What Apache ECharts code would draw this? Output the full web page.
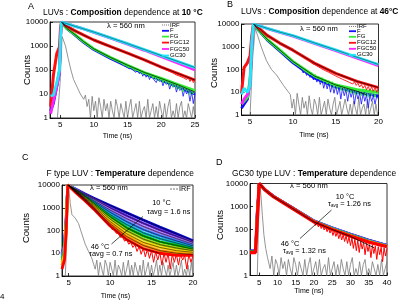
<!DOCTYPE html>
<html><head><meta charset="utf-8">
<script src="https://cdn.jsdelivr.net/npm/echarts@6/dist/echarts.min.js"></script>
<style>html,body{margin:0;padding:0;background:#fff}#c{width:400px;height:304px}</style>
</head><body><div id="c"></div>
<script>
// ---------- Panel A: composition at 10 °C ----------
const aTime  = [3.6, 4.0, 4.5, 4.9, 5.05, 5.2, 6, 7, 8.5, 10, 12.5, 15, 17.5, 20, 22.5, 25];
const aF     = [2, 4, 20, 80, 2000, 10000, 5248, 3162, 1413, 708, 302, 141, 71, 38, 20, 10];
const aFG    = [3, 6, 25, 100, 2500, 10000, 5370, 3311, 1514, 759, 331, 158, 79, 45, 25, 14];
const aFGC12 = [3, 60, 480, 900, 5000, 10000, 6607, 4571, 2818, 1778, 933, 501, 263, 132, 71, 38];
const aFGC50 = [1.5, 5, 20, 80, 2000, 10000, 8511, 6918, 5129, 3715, 2138, 1202, 661, 355, 191, 100];
const aGC30  = [8, 9, 30, 100, 2000, 10000, 8511, 6918, 5129, 3802, 2188, 1259, 708, 398, 224, 126];
const aFitFG = [10000, 5370, 3311, 1514, 759, 331, 158, 79, 44, 24, 12];
// noisy tails (t = start + i*step)
const aFNoiseStart = 14, aFNoiseStep = 0.25;
const aFNoise = [200,160,190,140,150,110,135,100,115,80, 100,70,90,55,75,50,66,40,58,45, 52,30,45,33,40,22,36,25,31,16, 27,19,25,12,21,14,18,8,16,10, 14,5,12,4,10];
const aFGNoiseStart = 14, aFGNoiseStep = 0.25;
const aFGNoise = [220,170,200,150,165,120,150,110,125,90, 115,80,100,65,85,60,75,50,66,45, 55,38,48,33,44,30,40,27,35,22, 31,20,27,16,25,15,21,12,19,13, 17,9,15,10,14];
const aFGC12NoiseStart = 15, aFGC12NoiseStep = 0.25;
const aFGC12Noise = [520,440,480,390,430,350,390,320,350,280, 300,240,270,215,240,190,210,165,185,140, 150,120,135,100,115,88,100,75,85,62, 75,55,66,48,58,40,50,33,44,30, 38];
const aIrfTime = [4.6, 5.0, 5.3, 5.5, 5.8, 6.2, 6.6, 7.0, 7.5, 8.0, 8.5];
const aIrf     = [1, 30, 2500, 2800, 1000, 300, 100, 40, 20, 10, 6];
const aIrfTailStart = 8.75, aIrfTailStep = 0.25;
const aIrfTail = [9,3,6,1,8,2,5,1,7,3, 1,6,2,4,1,5,2,1,6,3, 1,4,2,1,5,1,3,6,1,2, 4,1,5,1,2,3,1,6,1,2, 4,1,3,1,5,2,1,4,1,3, 6,1,2,1,4,1,3,5,1,2, 1,4,2,1,3,1];

// ---------- Panel B: composition at 46 °C ----------
const bTime  = [4.0, 4.3, 4.7, 5.0, 5.2, 5.4, 6, 7, 8.5, 10, 12.5, 15, 17.5, 20];
const bF     = [2, 3, 5, 30, 1000, 10000, 5248, 1995, 631, 200, 42, 17, 10, 7];
const bFG    = [3, 4, 6, 40, 1500, 10000, 5370, 2138, 708, 229, 52, 21, 13, 10];
const bFGC12 = [9, 120, 200, 400, 3000, 10000, 6761, 3162, 1413, 708, 191, 68, 30, 16];
const bFGC50 = [3, 5, 8, 20, 1500, 10000, 8511, 6310, 4266, 2951, 1413, 676, 316, 148];
const bGC30  = [8, 15, 10, 20, 1500, 10000, 8511, 6457, 4365, 3090, 1479, 724, 347, 166];
const bFitTime = [5.4, 6, 7, 8.5, 10, 12.5, 15, 17.5, 18.5];
const bFitFG   = [10000, 5370, 2138, 708, 229, 52, 21, 11, 8];
const bFNoiseStart = 11, bFNoiseStep = 0.2;
const bFNoise = [110,70,95,55,80,45,65,35,52,28, 44,22,36,15,30,14,26,10,22,9, 19,8,17,5,15,7,13,4,12,6, 11,3,10,5,9,3,9,4,8,2, 8,4,7,3,7,5];
const bFGNoiseStart = 11, bFGNoiseStep = 0.2;
const bFGNoise = [130,95,110,75,90,60,75,48,62,40, 52,33,45,27,38,23,33,19,29,16, 25,14,22,12,20,11,18,10,17,9, 15,8,14,8,13,7,13,7,12,6, 12,7,11,6,11,8];
const bFGC12NoiseStart = 12, bFGC12NoiseStep = 0.2;
const bFGC12Noise = [260,190,220,160,180,130,150,105,125,88, 100,75,85,62,72,52,62,44,52,37, 45,32,38,27,33,23,29,20,25,17, 22,15,20,13,18,12,17,11,16,10, 16];
const bIrfTime = [5.0, 5.3, 5.6, 5.9, 6.3, 6.9, 7.5, 8.1, 8.9, 9.5];
const bIrf     = [1, 300, 6300, 3000, 1000, 250, 100, 57, 20, 10];
const bIrfTailStart = 9.7, bIrfTailStep = 0.2;
const bIrfTail = [8,2,5,1,9,3,1,6,2,4, 1,7,2,1,5,3,1,6,1,2, 4,1,5,2,1,3,6,1,2,4, 1,1,5,2,1,3,1,4,2,1, 6,1,2,3,1,5,1,2,4,1, 3,1];

// ---------- Panel C: F type, temperature ----------
const cTime = [4.2, 4.5, 4.7, 4.9, 6, 7, 8, 10, 12, 14, 16, 18, 20];
const c10 = [10, 25, 300, 10000, 6166, 3981, 2692, 1259, 603, 288, 141, 71, 35];
const c14 = [9, 22, 280, 10000, 5888, 3715, 2399, 1000, 447, 209, 105, 56, 30];
const c18 = [8, 20, 250, 10000, 5623, 3388, 2089, 794, 331, 151, 78, 44, 25];
const c22 = [7, 18, 220, 10000, 5370, 3162, 1862, 631, 245, 110, 59, 35, 21];
const c26 = [6, 15, 200, 10000, 5129, 2951, 1660, 501, 182, 79, 44, 28, 18];
const c30 = [5, 12, 180, 10000, 5012, 2692, 1445, 398, 132, 58, 32, 22, 15];
const c34 = [4, 10, 150, 10000, 4786, 2512, 1288, 316, 98, 42, 24, 17, 13];
const c38 = [3, 8, 120, 10000, 4571, 2344, 1148, 251, 72, 30, 18, 13, 11];
const c42 = [3, 6, 100, 10000, 4365, 2138, 1000, 200, 54, 22, 13, 10, 9];
const c46 = [2, 5, 80, 10000, 4169, 1995, 891, 158, 40, 16, 10, 8, 8];
const c46NoiseStart = 8, c46NoiseStep = 0.25;
const c46Noise = [900,700,600,430,380,270,250,180,160,110, 110,75,75,50,52,34,40,25,30,18, 24,12,20,9,17,7,15,6,13,4, 12,5,11,3,10,4,10,2,9,4, 9,3,9,5,8,2,9,4,8];
const cIrfTime = [4.6, 4.85, 5.0, 5.2, 5.4, 5.8, 6.2, 6.6, 7.0, 7.4, 7.8];
const cIrf     = [1, 200, 9000, 1500, 500, 350, 200, 70, 25, 12, 6];
const cIrfTailStart = 8.0, cIrfTailStep = 0.2;
const cIrfTail = [6,2,5,1,4,2,1,5,3,1, 4,2,1,5,1,3,2,1,4,1, 2,5,1,3,1,4,2,1,3,1, 5,1,2,4,1,3,1,2,5,1, 3,1,4,2,1,3,1,2,4,1, 3,1,2,5,1,2,1,3,1,4, 1];

// ---------- Panel D: GC30 type, temperature ----------
const dTime = [2.5, 4.0, 4.5, 4.8, 5.0, 6.6, 8.9, 13.5, 20, 25, 30, 35, 40];
const d10 = [12, 12, 1000, 3000, 10000, 5370, 2884, 1047, 245, 122, 65, 35, 21];
const d14 = [12, 12, 900, 2900, 10000, 5350, 2860, 1035, 241, 120, 63, 34, 21];
const d18 = [11, 11, 800, 2800, 10000, 5330, 2840, 1025, 237, 117, 62, 33, 20];
const d22 = [11, 11, 700, 2700, 10000, 5320, 2820, 1015, 234, 114, 60, 32, 20];
const d26 = [11, 11, 600, 2600, 10000, 5310, 2800, 1005, 231, 112, 59, 32, 20];
const d30 = [11, 11, 550, 2500, 10000, 5300, 2780, 995, 228, 110, 58, 31, 19];
const d34 = [10, 10, 500, 2400, 10000, 5290, 2760, 985, 224, 107, 56, 30, 19];
const d38 = [10, 10, 450, 2300, 10000, 5280, 2740, 975, 220, 105, 55, 30, 19];
const d42 = [10, 10, 400, 2200, 10000, 5260, 2720, 965, 217, 102, 53, 29, 18];
const d46 = [10, 10, 300, 2000, 10000, 5248, 2692, 955, 214, 100, 52, 28, 18];
const d46NoiseStart = 20, d46NoiseStep = 0.4;
const d46Noise = [230,150,200,130,175,110,150,95,130,80, 115,70,100,55,90,50,78,40,68,35, 60,30,54,25,48,20,43,15,38,12, 34,10,30,14,27,8,25,11,22,6, 21,9,19,5,18,8,17,4,16,7, 15];
const dFitTime = [5.0, 6.6, 8.9, 13.5, 20, 25, 30, 36.5];
const dFit     = [10000, 5248, 2692, 955, 214, 100, 50, 16];
const dIrfTime = [4.5, 4.9, 5.2, 5.5, 5.9, 6.3, 6.8, 7.3];
const dIrf     = [1, 500, 9000, 3000, 400, 60, 15, 6];
const dIrfTailStart = 7.5, dIrfTailStep = 0.5;
const dIrfTail = [6,2,7,1,5,3,1,6,2,4, 1,5,2,1,6,3,1,4,2,1, 5,1,3,6,1,2,4,1,5,1, 2,3,1,6,1,2,4,1,3,1, 5,2,1,4,1,3,6,1,2,1, 4,1,3,5,1,2,1,4,2,1, 3,1,5,1,2,4];

// ---------- tick labels ----------
const aTicks = [5, 10, 15, 20, 25];
const bTicks = [5, 10, 15, 20];
const cTicks = [5, 10, 15, 20];
const dTicks = [5, 10, 15, 20, 25, 30, 35, 40];

// ---------- helpers ----------
const FONT = 'Liberation Sans, Arial, sans-serif';
function pairs(T, V) { return V.map((v, i) => [T[i], v]); }
function seq(start, step, V) { return V.map((v, i) => [+(start + i * step).toFixed(3), v]); }
function irf(T, V, start, step, tail) { return pairs(T, V).concat(seq(start, step, tail)); }
function line(idx, data, color, width, z) {
  return { type: 'line', xAxisIndex: idx, yAxisIndex: idx, data, showSymbol: false,
    lineStyle: { color, width }, itemStyle: { color }, z: z || 2, silent: true, animation: false };
}
const GRAY = '#7a7a7a', BLUE = '#1010ff', GREEN = '#33ee33', RED = '#ff1010', MAG = '#ff22ff', CYAN = '#22e8f8';
const rainbow = ['#0a0ad0', '#6a2be0', '#a070f0', '#2f7fff', '#00b8c0', '#00b400', '#a0c800', '#ffd400', '#ff8a00', '#ff0000'];

const grids = [
  { left: 50, top: 22, width: 145, height: 96 },
  { left: 241.5, top: 24, width: 137, height: 91 },
  { left: 62, top: 185, width: 131, height: 91 },
  { left: 250, top: 183.5, width: 137, height: 92 }
].map(g => Object.assign(g, { show: true, borderColor: '#000', borderWidth: 0.8, backgroundColor: 'transparent' }));

const xr = [[3.5, 25, aTicks], [4, 20, bTicks], [4.2, 20, cTicks], [2.5, 40, dTicks]];
const xAxis = xr.map((r, i) => ({
  type: 'value', gridIndex: i, min: r[0], max: r[1],
  axisLine: { lineStyle: { color: '#000', width: 0.8 } },
  axisTick: { inside: true, length: 3, customValues: r[2], lineStyle: { color: '#000', width: 0.8 } },
  axisLabel: { customValues: r[2], fontSize: 8, color: '#000', margin: 3, fontFamily: FONT },
  splitLine: { show: false }
}));
const yAxis = [0, 1, 2, 3].map(i => ({
  type: 'log', logBase: 10, gridIndex: i, min: 1, max: 10000,
  axisLine: { lineStyle: { color: '#000', width: 0.8 } },
  axisTick: { inside: true, length: 3, lineStyle: { color: '#000', width: 0.8 } },
  axisLabel: { fontSize: 8, color: '#000', margin: 2, fontFamily: FONT, formatter: v => String(Math.round(v)) },
  splitLine: { show: false }
}));

const FIT = '#000', FITC = '#12405a';
const series = [];
// A
series.push(line(0, irf(aIrfTime, aIrf, aIrfTailStart, aIrfTailStep, aIrfTail), GRAY, 0.8, 1));
series.push(line(0, seq(aFNoiseStart, aFNoiseStep, aFNoise), BLUE, 0.8));
series.push(line(0, pairs(aTime, aF), BLUE, 2.8));
series.push(line(0, seq(aFGNoiseStart, aFGNoiseStep, aFGNoise), GREEN, 0.9));
series.push(line(0, pairs(aTime, aFG), GREEN, 2.8));
series.push(line(0, seq(aFGC12NoiseStart, aFGC12NoiseStep, aFGC12Noise), RED, 0.9));
series.push(line(0, pairs(aTime, aFGC12), RED, 3));
series.push(line(0, pairs(aTime, aFGC50), MAG, 2.8));
series.push(line(0, pairs(aTime, aGC30), CYAN, 2.8));
series.push(line(0, pairs(aTime.slice(5), aFitFG), FIT, 0.7, 5));
series.push(line(0, pairs(aTime.slice(5), aFGC12.slice(5)), FIT, 0.7, 5));
series.push(line(0, pairs(aTime.slice(5), aGC30.slice(5)), FITC, 0.6, 5));
// B
series.push(line(1, irf(bIrfTime, bIrf, bIrfTailStart, bIrfTailStep, bIrfTail), GRAY, 0.8, 1));
series.push(line(1, seq(bFNoiseStart, bFNoiseStep, bFNoise), BLUE, 0.8));
series.push(line(1, pairs(bTime, bF), BLUE, 2.8));
series.push(line(1, seq(bFGNoiseStart, bFGNoiseStep, bFGNoise), GREEN, 0.9));
series.push(line(1, pairs(bTime, bFG), GREEN, 2.8));
series.push(line(1, seq(bFGC12NoiseStart, bFGC12NoiseStep, bFGC12Noise), RED, 0.9));
series.push(line(1, pairs(bTime, bFGC12), RED, 3));
series.push(line(1, pairs(bTime, bFGC50), MAG, 2.8));
series.push(line(1, pairs(bTime, bGC30), CYAN, 2.8));
series.push(line(1, pairs(bFitTime, bFitFG), FIT, 0.7, 5));
series.push(line(1, pairs(bTime.slice(5), bFGC12.slice(5)), FIT, 0.7, 5));
series.push(line(1, pairs(bTime.slice(5), bGC30.slice(5)), FITC, 0.6, 5));
// C
series.push(line(2, irf(cIrfTime, cIrf, cIrfTailStart, cIrfTailStep, cIrfTail), GRAY, 0.8, 1));
const cSets = [c10, c14, c18, c22, c26, c30, c34, c38, c42, c46];
cSets.forEach((s, i) => series.push(line(2, pairs(cTime, s), rainbow[i], 2.8, 2 + i * 0.01)));
series.push(line(2, seq(c46NoiseStart, c46NoiseStep, c46Noise), rainbow[9], 1, 2.2));
cSets.forEach((s, i) => {
  const end = i === 9 ? 11 : s.length;
  series.push(line(2, pairs(cTime.slice(3, end), s.slice(3, end)), FIT, 0.55, 5));
});
// D
series.push(line(3, irf(dIrfTime, dIrf, dIrfTailStart, dIrfTailStep, dIrfTail), GRAY, 0.8, 1));
const dSets = [d10, d14, d18, d22, d26, d30, d34, d38, d42, d46];
dSets.forEach((s, i) => series.push(line(3, pairs(dTime, s), rainbow[i], i === 9 ? 3.4 : 2.4, 2 + i * 0.01)));
series.push(line(3, seq(d46NoiseStart, d46NoiseStep, d46Noise), rainbow[9], 1, 2.2));
series.push(line(3, pairs(dFitTime, dFit), FIT, 0.8, 5));

// ---------- text / annotations ----------
const g = [];
function txt(x, y, text, size, opt) {
  g.push({ type: 'text', x, y, z: 50, style: Object.assign({ text, fontSize: size, fontFamily: FONT, fill: '#000',
    align: 'left', verticalAlign: 'middle' }, opt || {}) });
}
function seg(x1, y1, x2, y2, color, w, dash) {
  g.push({ type: 'line', z: 50, shape: { x1, y1, x2, y2 }, style: { stroke: color, lineWidth: w, lineDash: dash || null } });
}
const richB = { n: { fontSize: 8.4, fontFamily: FONT }, b: { fontSize: 8.4, fontFamily: FONT, fontWeight: 'bold' } };
txt(28, 7, 'A', 9);
txt(43, 13, '{n|LUVs : }{b|Composition}{n| dependence at }{b|10 °C}', 8.4, { rich: richB });
txt(227, 5, 'B', 9);
txt(241, 12, '{n|LUVs : }{b|Composition}{n| dependence at }{b|46°C}', 8.4, { rich: richB });
txt(22, 158, 'C', 9);
txt(46.5, 174, '{n|F type LUV : }{b|Temperature}{n| dependence}', 8.4, { rich: richB });
txt(216, 163, 'D', 9);
txt(232, 174, '{n|GC30 type LUV : }{b|Temperature}{n| dependence}', 8.4, { rich: richB });
txt(0, 297, '4', 8);

// axis names
[[27, 70], [214, 73], [26.5, 228], [220, 225]].forEach(p => {
  g.push({ type: 'text', x: p[0], y: p[1], rotation: Math.PI / 2, z: 50,
    style: { text: 'Counts', fontSize: 9.5, fontFamily: FONT, fill: '#000', align: 'center', verticalAlign: 'middle' } });
});
[[117.5, 136.5], [314, 135], [115.5, 296.5], [309, 291]].forEach(p => txt(p[0], p[1], 'Time (ns)', 7, { align: 'center' }));

// lambda
[[107, 26], [300, 29], [90, 188], [290, 186]].forEach(p => txt(p[0], p[1], 'λ = 560 nm', 7.6));

// legends A and B
const legNames = ['IRF', 'F', 'FG', 'FGC12', 'FGC50', 'GC30'];
const legCols = [GRAY, BLUE, GREEN, RED, MAG, CYAN];
const legA = [25, 30.8, 36.6, 42.6, 49, 55.5];
const legB = [26.5, 31.2, 36.8, 42.8, 48.8, 54.8];
[[162, legA], [349, legB]].forEach(L => {
  L[1].forEach((y, i) => {
    seg(L[0], y, L[0] + 7, y, legCols[i], i === 0 ? 1 : 1.8, i === 0 ? [1, 1] : null);
    txt(L[0] + 8, y, legNames[i], 6);
  });
});
// C legend IRF
seg(170, 189, 178, 189, '#555', 0.8, [2, 1]);
txt(179, 189, 'IRF', 7.2);

// C annotations
const richT = { t: { fontSize: 7.4, fontFamily: FONT }, s: { fontSize: 7.4, fontFamily: FONT } };
txt(161.5, 202.5, '10 °C', 7.4, { align: 'center' });
txt(147, 212, '{t|τ}{s|avg}{t| = 1.6 ns}', 7.4, { rich: richT });
seg(143, 216.5, 111.5, 244, '#000', 0.7);
txt(100, 246.5, '46 °C', 7.4, { align: 'center' });
txt(89, 254, '{t|τ}{s|avg}{t| = 0.7 ns}', 7.4, { rich: richT });
// D annotations
const richD = { t: { fontSize: 7.4, fontFamily: FONT }, s: { fontSize: 4.5, fontFamily: FONT, padding: [4, 0, 0, 0] } };
txt(345, 196.5, '10 °C', 7.4, { align: 'center' });
txt(328, 203.5, '{t|τ}{s|avg}{t| = 1.26 ns}', 7.4, { rich: richD });
seg(331.5, 210, 300, 238.5, '#000', 0.7);
txt(290, 244, '46 °C', 7.4, { align: 'center' });
txt(283, 251, '{t|τ}{s|avg}{t| = 1.32 ns}', 7.4, { rich: richD });

const chart = echarts.init(document.getElementById('c'), null, { renderer: 'canvas' });
chart.setOption({
  animation: false,
  textStyle: { fontFamily: FONT },
  grid: grids, xAxis, yAxis, series, graphic: g
});
</script></body></html>
